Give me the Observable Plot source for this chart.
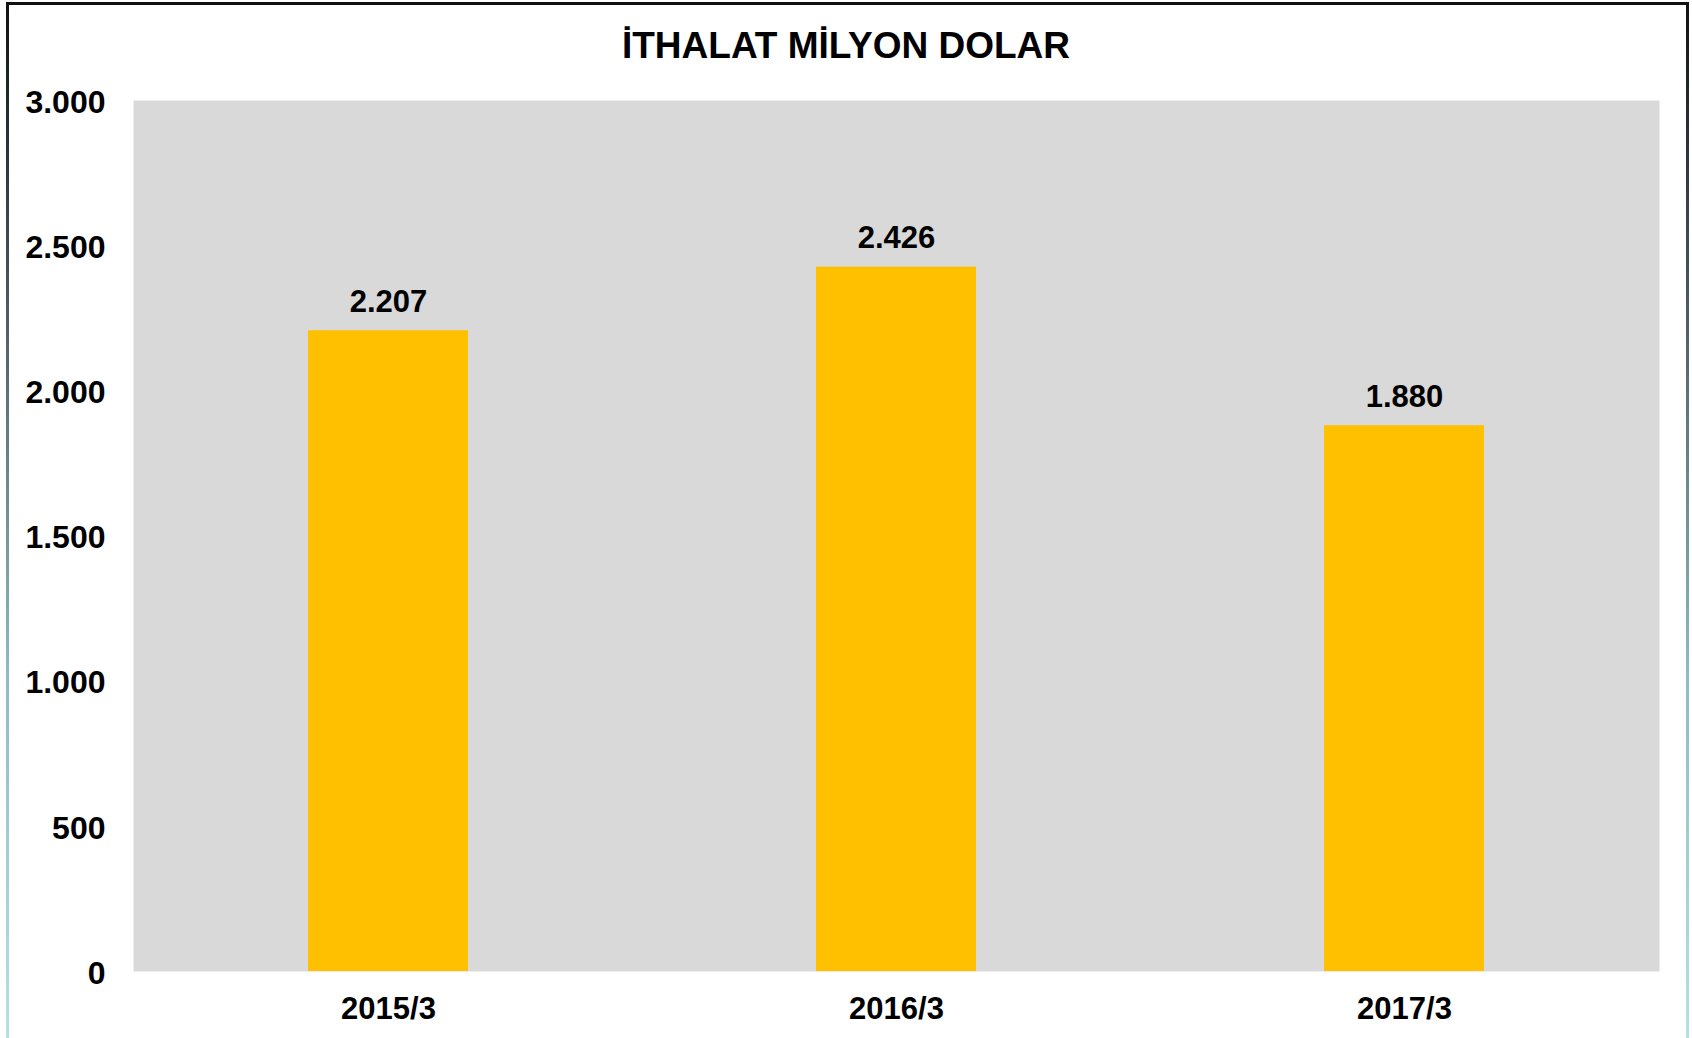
<!DOCTYPE html>
<html>
<head>
<meta charset="utf-8">
<script src="https://cdn.jsdelivr.net/npm/d3@7"></script>
<script src="https://cdn.jsdelivr.net/npm/@observablehq/plot@0.6"></script>
<style>
  html, body { margin: 0; padding: 0; background: #fff; }
  #wrap { position: relative; width: 1692px; height: 1038px; overflow: hidden; font-family: "Liberation Sans", Arial, sans-serif; }
  #title { position: absolute; left: 0; width: 1692px; top: 27px; text-align: center; font-size: 37px; line-height: 37px; font-weight: bold; color: #000; }
  #chart { position: absolute; left: 0; top: 80px; }
  .bd { position: absolute; }
</style>
</head>
<body>
<div id="wrap">
  <div class="bd" style="left:6px;top:2px;width:1683px;height:3px;background:#111;"></div>
  <div class="bd" style="left:6px;top:2px;width:3px;height:1036px;background:linear-gradient(#111 0%, #4f5c60 30%, #8fbcc1 65%, #b6e0e4 100%);"></div>
  <div class="bd" style="left:1686px;top:2px;width:3px;height:1036px;background:linear-gradient(#111 0%, #4f5c60 30%, #8fbcc1 65%, #b6e0e4 100%);"></div>
  <div id="title">İTHALAT MİLYON DOLAR</div>
  <div id="chart"></div>
</div>
<script>
const periods = ["2015/3", "2016/3", "2017/3"];
const imports = [2207, 2426, 1880];
const yTicks = [0, 500, 1000, 1500, 2000, 2500, 3000];

const data = periods.map((p, i) => ({period: p, value: imports[i]}));
const fmt = d => d3.format(",")(d).replace(/,/g, ".");

const chart = Plot.plot({
  width: 1692,
  height: 958,
  marginTop: 20,
  marginBottom: 67,
  marginLeft: 133,
  marginRight: 33,
  style: {fontFamily: "'Liberation Sans', Arial, sans-serif", fontSize: "31px", fontWeight: "bold", color: "#000", background: "transparent", overflow: "visible"},
  x: {domain: periods, paddingInner: 0.6855, paddingOuter: 0.343, label: null},
  y: {domain: [0, 3000], label: null},
  marks: [
    Plot.frame({fill: "#D9D9D9", stroke: null}),
    Plot.barY(data, {x: "period", y: "value", fill: "#FFC000"}),
    Plot.text(data, {x: "period", y: "value", text: d => fmt(d.value), dy: -29, lineAnchor: "middle", fill: "#000"}),
    Plot.axisY({ticks: yTicks, tickFormat: fmt, tickSize: 0, tickPadding: 28, dy: 2, fontSize: 32, label: null}),
    Plot.axisX({tickSize: 0, tickPadding: 25, label: null})
  ]
});
document.getElementById("chart").appendChild(chart);
</script>
</body>
</html>
